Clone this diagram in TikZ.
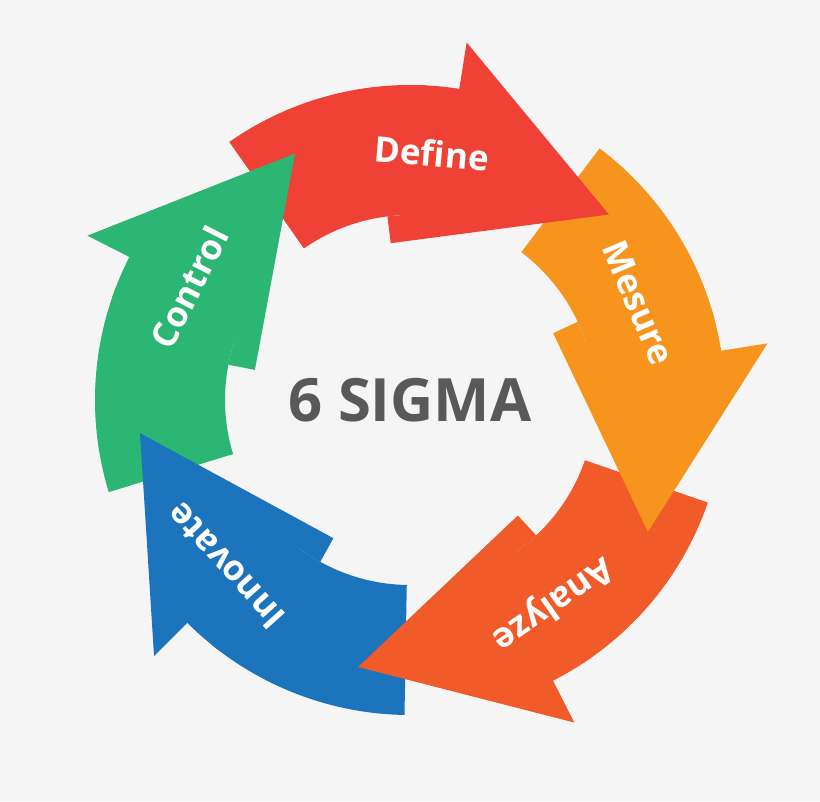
\documentclass[tikz,border=0pt]{standalone}
\usepackage{fontspec}
\setmainfont{Open Sans}
\definecolor{cDefine}{HTML}{EF4136}
\definecolor{cMesure}{HTML}{F7941D}
\definecolor{cAnalyze}{HTML}{F15A29}
\definecolor{cInnovate}{HTML}{1C75BC}
\definecolor{cControl}{HTML}{2BB673}
\definecolor{cText}{HTML}{58595B}
\tikzset{
  lbl/.style={text=white, inner sep=1pt, font=\bfseries\fontsize{20}{20}\selectfont}
}
\begin{document}
\begin{tikzpicture}[x=0.02cm,y=0.02cm]
        \fill[black!4] (-410,-401) rectangle (410,400);
        \useasboundingbox (-410,-401) rectangle (410,400);

        % bodies
        \foreach \t/\c in {43/cDefine,-29/cMesure,-101/cAnalyze,-173/cInnovate,115/cControl}
          \fill[\c] (\t+82:315) arc[start angle=\t+82,end angle=\t+44,radius=315]
             -- (\t+44:185) arc[start angle=\t+44,end angle=\t+82,radius=185] -- cycle;

        % heads
        \foreach \t/\c in {43/cDefine,-29/cMesure,-101/cAnalyze,-173/cInnovate,115/cControl}
          \fill[\c] (\t+46:315) arc[start angle=\t+46,end angle=\t+38,radius=315]
             -- (\t+38:362) -- (\t:272) -- (\t+54:158) -- (\t+54:185)
             arc[start angle=\t+54,end angle=\t+46,radius=185] -- cycle;

        \node[lbl, rotate=-5] (define) at (85:248) {Define};
        \node[lbl, rotate=-67] (mesure) at (23:248) {Mesure};
        \node[lbl, rotate=-145] (analyze) at (-55:248) {Analyze};
        \node[lbl, rotate=132] (innovate) at (-138:248) {Innovate};
        \node[lbl, rotate=63] (control) at (153:248) {Control};
        \node[text=cText, font=\bfseries\fontsize{34}{34}\selectfont] (sigma) at (0,0) {6 SIGMA};
\end{tikzpicture}
\end{document}
